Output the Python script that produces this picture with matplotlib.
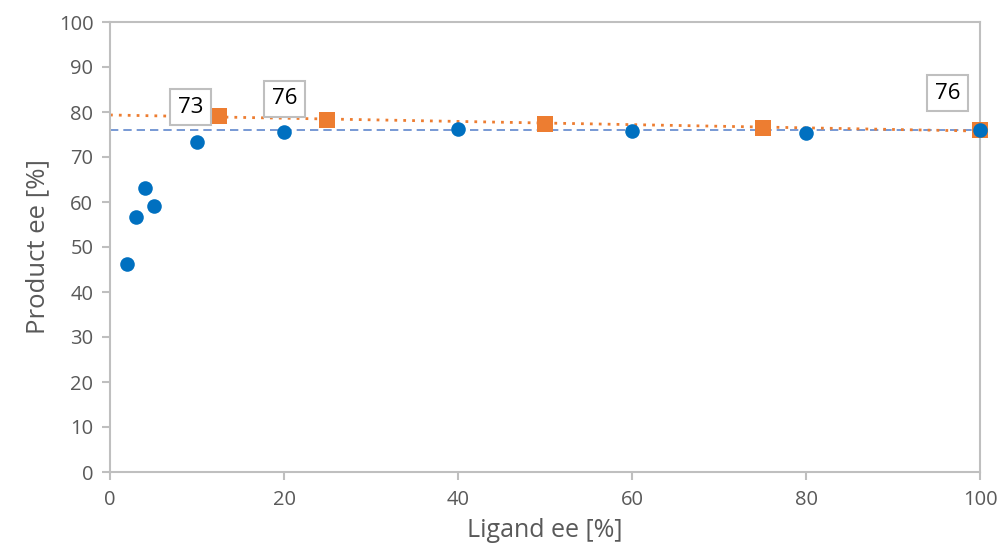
import numpy as np
import matplotlib.pyplot as plt

plt.rcParams['font.family'] = ['Open Sans', 'DejaVu Sans']

# Datos: ee del ligando vs ee del producto
ligandoAzul = [2, 3, 4, 5, 10, 20, 40, 60, 80, 100]
productoAzul = [46.2, 56.7, 63.1, 59.1, 73.3, 75.6, 76.2, 75.8, 75.3, 76.0]

ligandoNaranja = [12.5, 25, 50, 75, 100]
productoNaranja = [79.2, 78.3, 77.3, 76.5, 76.0]

nivelReferencia = 76

etiquetas = ['73', '76', '76']
etiquetasX = [9.3, 20.1, 96.3]
etiquetasY = [81.1, 82.9, 84.2]

gris = '#595959'
borde = '#bfbfbf'

fig = plt.figure(figsize=(10.03, 5.59), dpi=100)
ax = fig.add_axes([110 / 1003, 87 / 559, 870 / 1003, 450 / 559])

# linea de referencia (discontinua azul)
ax.plot([0, 100], [nivelReferencia, nivelReferencia], color='#4472c4', linestyle=(0, (5, 3)),
        linewidth=1.2, alpha=0.85, zorder=1)

# tendencia lineal de la serie naranja
m, b = np.polyfit(ligandoNaranja, productoNaranja, 1)
xs = np.array([0, 100])
ax.plot(xs, m * xs + b, color='#ed7d31', linestyle=(0, (1, 2.2)), linewidth=2.0, zorder=2)

ax.scatter(ligandoNaranja, productoNaranja, marker='s', s=130, color='#ed7d31', zorder=3,
           clip_on=False, linewidths=0)
ax.scatter(ligandoAzul, productoAzul, marker='o', s=110, color='#0070c0', zorder=4,
           clip_on=False, linewidths=0)

for texto, x, y in zip(etiquetas, etiquetasX, etiquetasY):
    ax.text(x, y, texto, fontsize=16, color='black', ha='center', va='center', zorder=5,
            bbox=dict(boxstyle='square,pad=0.35', facecolor='white', edgecolor=borde, linewidth=1.5))

ax.set_xlim(0, 100)
ax.set_ylim(0, 100)
ax.set_xticks(range(0, 101, 20))
ax.set_yticks(range(0, 101, 10))

for lado in ax.spines.values():
    lado.set_color(borde)
    lado.set_linewidth(1.5)

ax.tick_params(axis='both', colors=borde, labelcolor=gris, labelsize=14.5, length=6, width=1.5,
               direction='out')
ax.tick_params(axis='x', pad=7)
ax.tick_params(axis='y', pad=6)

ax.set_xlabel('Ligand ee [%]', fontsize=18, color=gris, labelpad=6)
ax.set_ylabel('Product ee [%]', fontsize=18.5, color=gris, labelpad=6)

fig.savefig('out.png', dpi=100)
